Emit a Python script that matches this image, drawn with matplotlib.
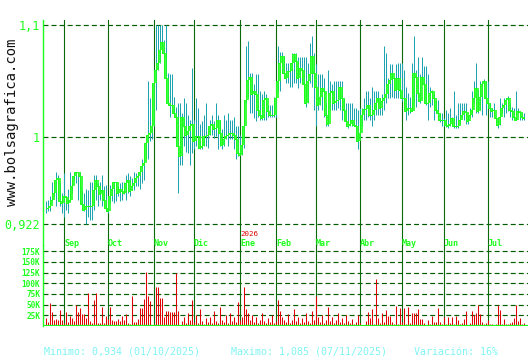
import numpy as np
import matplotlib
matplotlib.use("Agg")
import matplotlib.pyplot as plt

plt.rcParams['lines.scale_dashes'] = False

# ---------------- data ----------------
close = [
    0.937, 0.937, 0.938, 0.944, 0.950, 0.962, 0.963, 0.943, 0.941, 0.947,
    0.946, 0.941, 0.944, 0.956, 0.965, 0.969, 0.969, 0.965, 0.940, 0.935,
    0.938, 0.938, 0.938, 0.938, 0.953, 0.962, 0.956, 0.949, 0.953, 0.944,
    0.937, 0.934, 0.947, 0.954, 0.960, 0.960, 0.950, 0.954, 0.952, 0.950,
    0.959, 0.962, 0.952, 0.956, 0.959, 0.963, 0.965, 0.969, 0.974, 0.977,
    0.995, 1.002, 1.004, 1.010, 1.048, 1.060, 1.066, 1.078, 1.085, 1.075,
    1.053, 1.030, 1.029, 1.029, 1.021, 1.018, 0.992, 0.983, 1.018, 1.010,
    1.002, 1.005, 1.010, 1.012, 0.996, 1.001, 1.001, 0.990, 0.992, 1.001,
    1.001, 1.002, 1.010, 1.012, 1.007, 1.008, 1.015, 1.004, 0.993, 0.998,
    1.001, 1.002, 1.004, 1.004, 1.002, 0.998, 0.986, 0.984, 0.993, 1.010,
    1.033, 1.051, 1.054, 1.038, 1.041, 1.038, 1.024, 1.020, 1.017, 1.033,
    1.035, 1.023, 1.020, 1.020, 1.020, 1.035, 1.050, 1.066, 1.072, 1.057,
    1.053, 1.059, 1.059, 1.066, 1.074, 1.068, 1.053, 1.062, 1.060, 1.047,
    1.030, 1.050, 1.056, 1.072, 1.057, 1.045, 1.029, 1.036, 1.044, 1.041,
    1.020, 1.012, 1.039, 1.041, 1.030, 1.032, 1.033, 1.045, 1.035, 1.024,
    1.014, 1.010, 1.012, 1.015, 1.011, 1.010, 0.996, 1.004, 1.020, 1.025,
    1.025, 1.029, 1.020, 1.020, 1.024, 1.030, 1.035, 1.026, 1.032, 1.035,
    1.038, 1.047, 1.051, 1.057, 1.053, 1.042, 1.053, 1.042, 1.035, 1.035,
    1.023, 1.026, 1.026, 1.023, 1.057, 1.054, 1.039, 1.032, 1.054, 1.047,
    1.030, 1.030, 1.039, 1.041, 1.035, 1.024, 1.021, 1.015, 1.015, 1.015,
    1.011, 1.010, 1.012, 1.017, 1.010, 1.010, 1.010, 1.015, 1.020, 1.023,
    1.022, 1.014, 1.020, 1.024, 1.035, 1.044, 1.023, 1.036, 1.047, 1.050,
    1.035, 1.030, 1.026, 1.023, 1.024, 1.017, 1.011, 1.018, 1.026, 1.029,
    1.033, 1.035, 1.024, 1.023, 1.018, 1.015, 1.023, 1.022, 1.018, 1.017,
]

high = [
    0.943, 0.944, 0.947, 0.960, 0.960, 0.969, 0.966, 0.960, 0.950, 0.968,
    0.947, 0.954, 0.969, 0.965, 0.969, 0.969, 0.969, 0.969, 0.953, 0.950,
    0.954, 0.953, 0.960, 0.960, 0.966, 0.966, 0.959, 0.960, 0.966, 0.956,
    0.957, 0.947, 0.957, 0.956, 0.960, 0.960, 0.956, 0.959, 0.960, 0.960,
    0.966, 0.968, 0.965, 0.963, 0.969, 0.968, 0.969, 0.969, 0.980, 0.978,
    1.002, 1.050, 1.035, 1.035, 1.060, 1.100, 1.100, 1.100, 1.100, 1.087,
    1.100, 1.057, 1.056, 1.056, 1.036, 1.027, 1.030, 1.030, 1.021, 1.035,
    1.030, 1.020, 1.015, 1.062, 1.015, 1.035, 1.026, 1.012, 1.014, 1.020,
    1.030, 1.007, 1.015, 1.020, 1.014, 1.030, 1.020, 1.015, 1.007, 1.020,
    1.015, 1.021, 1.015, 1.015, 1.018, 1.010, 1.010, 1.002, 1.010, 1.018,
    1.081, 1.086, 1.057, 1.057, 1.047, 1.056, 1.056, 1.041, 1.038, 1.041,
    1.038, 1.029, 1.029, 1.029, 1.036, 1.047, 1.081, 1.076, 1.076, 1.072,
    1.066, 1.066, 1.066, 1.075, 1.075, 1.075, 1.071, 1.071, 1.071, 1.071,
    1.071, 1.066, 1.084, 1.090, 1.075, 1.065, 1.056, 1.056, 1.056, 1.053,
    1.030, 1.060, 1.050, 1.047, 1.050, 1.050, 1.050, 1.050, 1.050, 1.035,
    1.030, 1.030, 1.030, 1.030, 1.026, 1.026, 1.024, 1.026, 1.026, 1.035,
    1.041, 1.041, 1.035, 1.045, 1.041, 1.041, 1.041, 1.035, 1.038, 1.081,
    1.075, 1.053, 1.065, 1.065, 1.053, 1.065, 1.066, 1.066, 1.066, 1.060,
    1.045, 1.039, 1.036, 1.066, 1.090, 1.060, 1.071, 1.056, 1.071, 1.063,
    1.063, 1.056, 1.045, 1.042, 1.039, 1.033, 1.033, 1.021, 1.021, 1.017,
    1.024, 1.021, 1.026, 1.018, 1.041, 1.020, 1.030, 1.030, 1.030, 1.030,
    1.030, 1.020, 1.026, 1.041, 1.050, 1.066, 1.042, 1.050, 1.050, 1.052,
    1.050, 1.050, 1.030, 1.026, 1.030, 1.018, 1.017, 1.035, 1.030, 1.035,
    1.035, 1.037, 1.030, 1.027, 1.026, 1.041, 1.026, 1.023, 1.021, 1.021,
]

low = [
    0.932, 0.934, 0.934, 0.943, 0.947, 0.938, 0.956, 0.938, 0.932, 0.929,
    0.935, 0.932, 0.943, 0.950, 0.962, 0.959, 0.944, 0.962, 0.935, 0.934,
    0.922, 0.929, 0.926, 0.926, 0.935, 0.944, 0.938, 0.944, 0.938, 0.938,
    0.934, 0.932, 0.941, 0.943, 0.941, 0.943, 0.947, 0.943, 0.944, 0.949,
    0.944, 0.950, 0.947, 0.953, 0.953, 0.956, 0.956, 0.954, 0.959, 0.962,
    0.980, 0.980, 0.996, 0.998, 1.010, 1.024, 1.060, 1.066, 1.076, 1.068,
    1.050, 1.030, 1.018, 1.027, 1.018, 1.015, 0.950, 0.975, 0.975, 0.992,
    0.987, 0.986, 0.975, 0.986, 0.989, 0.992, 0.990, 0.989, 0.989, 0.992,
    0.992, 0.990, 1.002, 1.002, 0.999, 1.001, 0.989, 0.992, 0.989, 0.992,
    0.998, 0.992, 0.998, 0.998, 0.989, 0.980, 0.983, 0.984, 0.984, 0.990,
    1.030, 1.036, 1.021, 1.021, 1.017, 1.014, 1.018, 1.015, 1.015, 1.015,
    1.015, 1.018, 1.018, 1.018, 1.018, 1.018, 1.039, 1.041, 1.057, 1.053,
    1.048, 1.048, 1.045, 1.045, 1.048, 1.048, 1.044, 1.048, 1.048, 1.045,
    1.027, 1.030, 1.048, 1.045, 1.024, 1.010, 1.024, 1.029, 1.024, 1.018,
    1.010, 1.010, 1.024, 1.024, 1.024, 1.024, 1.026, 1.024, 1.015, 1.015,
    1.010, 1.008, 1.010, 1.010, 1.010, 0.998, 0.989, 0.998, 1.010, 1.015,
    1.015, 1.018, 1.015, 1.010, 1.015, 1.020, 1.020, 1.020, 1.020, 1.024,
    1.030, 1.035, 1.035, 1.036, 1.035, 1.035, 1.035, 1.041, 1.032, 1.027,
    1.015, 1.020, 1.021, 1.023, 1.030, 1.027, 1.036, 1.030, 1.051, 1.041,
    1.029, 1.015, 1.027, 1.029, 1.015, 1.021, 1.015, 1.013, 1.010, 1.010,
    1.009, 1.008, 1.010, 1.010, 1.008, 1.008, 1.008, 1.012, 1.018, 1.015,
    1.012, 1.012, 1.018, 1.018, 1.030, 1.021, 1.021, 1.024, 1.020, 1.042,
    1.020, 1.027, 1.018, 1.018, 1.018, 1.011, 1.008, 1.011, 1.021, 1.018,
    1.021, 1.023, 1.018, 1.015, 1.015, 1.015, 1.021, 1.015, 1.015, 1.015,
]

volume_k = [
    19, 10, 54, 33, 14, 16, 14, 37, 14, 6,
    33, 9, 24, 19, 12, 49, 33, 43, 28, 28,
    19, 78, 12, 8, 61, 76, 8, 8, 45, 8,
    23, 16, 45, 14, 12, 12, 16, 12, 24, 14,
    27, 8, 5, 70, 9, 9, 16, 41, 41, 63,
    127, 70, 58, 2, 5, 92, 92, 66, 66, 22,
    35, 35, 33, 33, 33, 125, 35, 2, 12, 20,
    8, 30, 15, 60, 10, 25, 8, 40, 12, 5,
    18, 10, 22, 8, 35, 12, 6, 45, 15, 10,
    25, 8, 30, 12, 20, 10, 55, 15, 20, 90,
    40, 30, 15, 25, 10, 20, 8, 15, 30, 12,
    6, 18, 10, 25, 8, 12, 60, 35, 20, 15,
    10, 28, 8, 15, 40, 12, 20, 6, 18, 10,
    30, 12, 8, 35, 15, 70, 20, 10, 25, 8,
    15, 45, 12, 20, 8, 15, 30, 10, 18, 6,
    25, 12, 8, 16, 5, 10, 26, 6, 2, 2,
    12, 32, 19, 40, 5, 110, 19, 8, 30, 10,
    37, 23, 23, 10, 5, 47, 5, 42, 10, 42,
    5, 44, 8, 30, 30, 30, 40, 16, 16, 8,
    2, 14, 5, 23, 10, 10, 42, 10, 5, 22,
    5, 22, 8, 22, 5, 23, 14, 5, 6, 16,
    34, 2, 6, 36, 26, 30, 48, 28, 10, 5,
    6, 14, 5, 5, 2, 5, 48, 37, 5, 16,
    5, 5, 6, 10, 19, 50, 12, 19, 5, 8,
]

month_names = ["Sep", "Oct", "Nov", "Dic", "Ene", "Feb", "Mar", "Abr", "May", "Jun", "Jul"]
month_start = [10, 32, 55, 75, 98, 116, 136, 158, 179, 200, 222]
year_label = "2026"
year_month = "Ene"

price_ticks = [0.922, 1.0, 1.1]
price_tick_labels = ["0,922", "1", "1,1"]
vol_ticks_k = [25, 50, 75, 100, 125, 150, 175]
vol_tick_labels = ["25K", "50K", "75K", "100K", "125K", "150K", "175K"]

stats = ["Minimo: 0,934 (01/10/2025)", "Maximo: 1,085 (07/11/2025)", "Variación: 16%"]
watermark = "www.bolsagrafica.com"

# ---------------- style ----------------
LIME = "#1cff1c"
DASH = "#005c00"
MLINE = "#0a6a0a"
TEAL = "#1ea4b0"
RED = "#e00000"
MONO = "DejaVu Sans Mono"

W, H = 530, 360
fig = plt.figure(figsize=(W / 100, H / 100), dpi=100)
fig.patch.set_facecolor("white")


def fx(px):
    return px / W


def fy(py):
    return 1 - py / H


L, R = 43, 528
ax = fig.add_axes([fx(L), fy(245), fx(R) - fx(L), fy(20) - fy(245)])
axv = fig.add_axes([fx(L), fy(326), fx(R) - fx(L), fy(245) - fy(326)])

n = len(close)
x = np.arange(n) + 0.25          # shift half a pixel so 1-px lines stay crisp
opens = [close[0]] + close[:-1]

ppx = 0.1 / 112.0  # price per pixel
ax.set_ylim(1.1 - 220 * ppx, 1.1 + 5 * ppx)
ax.set_xlim(-1, -1 + (R - L) / 2.0)
axv.set_xlim(-1, -1 + (R - L) / 2.0)
vpx = 25000 / 10.7
axv.set_ylim(0, 81 * vpx)

for a in (ax, axv):
    for s in ("top", "right", "bottom"):
        a.spines[s].set_visible(False)
    a.spines["left"].set_color(LIME)
    a.spines["left"].set_linewidth(1.0)
    a.set_xticks([])
    a.tick_params(axis="y", length=0, pad=2, colors=LIME)
    a.set_facecolor("none")

# grid lines
for v in price_ticks:
    ax.axhline(v, color=DASH, lw=0.85, dashes=(3.6, 2.2), zorder=1)
for v in vol_ticks_k:
    axv.axhline(v * 1000, color=DASH, lw=0.85, dashes=(3.6, 2.2), zorder=1)

# month lines
for m in month_start:
    ax.axvline(m - 0.75, color=MLINE, lw=0.8, zorder=2)
    axv.axvline(m - 0.75, color=MLINE, lw=0.8, zorder=2)

# price
ax.vlines(x, low, high, color=TEAL, lw=0.72, zorder=3)
ax.vlines(x, opens, close, color=LIME, lw=1.2, zorder=4)
ax.plot(x, close, drawstyle="steps-pre", color=LIME, lw=0.72, zorder=5)

# volume
axv.vlines(x, 0, np.array(volume_k) * 1000, color=RED, lw=0.75, zorder=3)
axv.axhline(0, color=LIME, lw=1.6, zorder=4)

# ticks
ax.set_yticks(price_ticks)
ax.set_yticklabels(price_tick_labels, family=MONO, fontsize=8.5)
axv.set_yticks([v * 1000 for v in vol_ticks_k])
axv.set_yticklabels(vol_tick_labels, family=MONO, fontsize=5.6, fontweight="bold")

# month labels
for name, m in zip(month_names, month_start):
    ax.text(m - 0.5, 0.006, name, transform=ax.get_xaxis_transform(),
            ha="left", va="center", family=MONO, fontsize=6, fontweight="bold",
            color=LIME, zorder=6)
    if name == year_month:
        ax.text(m - 0.5, 0.05, year_label, transform=ax.get_xaxis_transform(),
                ha="left", va="center", family=MONO, fontsize=5.4,
                color=RED, zorder=6)

# watermark
fig.text(fx(12), fy(122), watermark, rotation=90, ha="center", va="center",
         family=MONO, fontsize=10, color="#111111")

# stats
for s, px in zip(stats, [44, 231, 414]):
    fig.text(fx(px), fy(352), s, ha="left", va="center", family=MONO,
             fontsize=7.2, color="#80f4f4")

fig.savefig("out.png", dpi=100, facecolor="white")
